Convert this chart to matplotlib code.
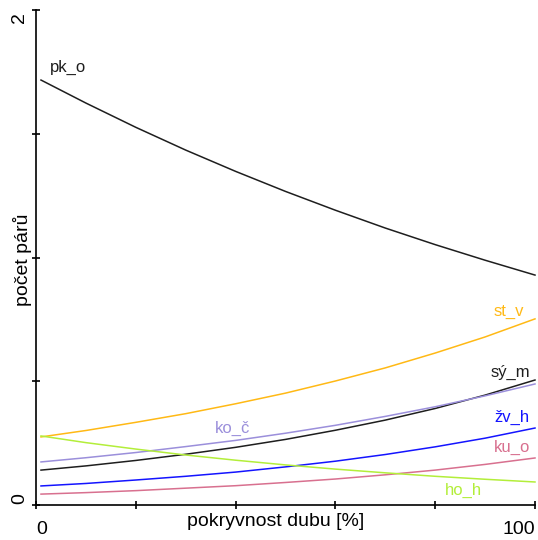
import matplotlib
matplotlib.use("Agg")
import matplotlib.pyplot as plt

plt.rcParams['font.family'] = ['Liberation Sans', 'DejaVu Sans']

# pokryvnost dubu [%] and fitted number of pairs per species
cover = [1, 10, 20, 30, 40, 50, 60, 70, 80, 90, 100]
pk_o = [1.717, 1.624, 1.526, 1.434, 1.348, 1.267, 1.191, 1.119, 1.052, 0.989, 0.929]
st_v = [0.275, 0.301, 0.334, 0.369, 0.409, 0.452, 0.501, 0.554, 0.614, 0.679, 0.752]
sy_m = [0.141, 0.158, 0.180, 0.205, 0.233, 0.265, 0.302, 0.343, 0.390, 0.444, 0.505]
ko_c = [0.174, 0.191, 0.212, 0.236, 0.261, 0.290, 0.322, 0.358, 0.397, 0.441, 0.489]
zv_h = [0.077, 0.087, 0.101, 0.116, 0.133, 0.154, 0.177, 0.204, 0.235, 0.270, 0.311]
ku_o = [0.044, 0.050, 0.058, 0.068, 0.078, 0.091, 0.105, 0.122, 0.141, 0.164, 0.190]
ho_h = [0.279, 0.252, 0.226, 0.202, 0.181, 0.162, 0.145, 0.130, 0.116, 0.104, 0.093]

series = [
    # name, values, colour, label position
    ("pk_o", pk_o, "#1e1e1e", (6.4, 1.766)),
    ("st_v", st_v, "#FFB915", (94.8, 0.780)),
    ("sý_m", sy_m, "#1e1e1e", (95.0, 0.537)),
    ("ko_č", ko_c, "#9B8FDB", (39.3, 0.311)),
    ("žv_h", zv_h, "#1414FF", (95.4, 0.352)),
    ("ku_o", ku_o, "#D8708F", (95.4, 0.232)),
    ("ho_h", ho_h, "#B3EE3A", (85.6, 0.057)),
]

fig = plt.figure(figsize=(5.38, 5.40), dpi=100)
ax = fig.add_axes([36/538, 35/540, 499/538, 495/540])

for name, vals, col, (tx, ty) in series:
    ax.plot(cover, vals, color=col, lw=1.1, clip_on=False)
    ax.text(tx, ty, name, color=col, fontsize=12, ha="center", va="center")

ax.set_xlim(0, 100)
ax.set_ylim(0, 2)
for s in ["top", "right"]:
    ax.spines[s].set_visible(False)
ax.spines["left"].set_linewidth(1.2)
ax.spines["bottom"].set_linewidth(1.2)

ax.set_xticks([0, 20, 40, 60, 80, 100])
ax.set_yticks([0, 0.5, 1, 1.5, 2])
ax.set_xticklabels([])
ax.set_yticklabels([])
ax.tick_params(direction="inout", length=6, width=1.2)

# tick labels only at the ends, aligned inwards
ax.text(0, -0.033, "0", fontsize=14, ha="left", va="top", transform=ax.get_xaxis_transform())
ax.text(100, -0.033, "100", fontsize=14, ha="right", va="top", transform=ax.get_xaxis_transform())
ax.text(-0.033, 0.004, "0", fontsize=14, rotation=90, ha="center", va="bottom", transform=ax.get_yaxis_transform())
ax.text(-0.033, 1.99, "2", fontsize=14, rotation=90, ha="center", va="top", transform=ax.get_yaxis_transform())

fig.text(276/538, 1 - 522/540, "pokryvnost dubu [%]", fontsize=14, ha="center", va="center")
fig.text(23/538, 1 - 260/540, "počet párů", fontsize=14, rotation=90, ha="center", va="center")

fig.savefig("out.png", dpi=100)
